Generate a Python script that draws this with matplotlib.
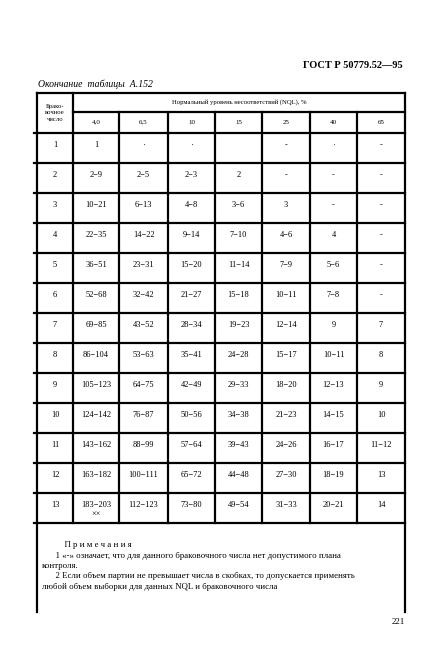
import matplotlib
matplotlib.use("Agg")
from matplotlib import pyplot as plt

plt.rcParams['font.family'] = ['Liberation Serif', 'DejaVu Serif']

# данные таблицы
nql = ["4,0", "6,5", "10", "15", "25", "40", "65"]
reject_numbers = ["1", "2", "3", "4", "5", "6", "7", "8", "9", "10", "11", "12", "13"]
col_40 = ["1", "2−9", "10−21", "22−35", "36−51", "52−68", "69−85", "86−104", "105−123", "124−142", "143−162", "163−182", "183−203\n××"]
col_65 = ["·", "2−5", "6−13", "14−22", "23−31", "32−42", "43−52", "53−63", "64−75", "76−87", "88−99", "100−111", "112−123"]
col_10 = ["·", "2−3", "4−8", "9−14", "15−20", "21−27", "28−34", "35−41", "42−49", "50−56", "57−64", "65−72", "73−80"]
col_15 = ["", "2", "3−6", "7−10", "11−14", "15−18", "19−23", "24−28", "29−33", "34−38", "39−43", "44−48", "49−54"]
col_25 = ["-", "-", "3", "4−6", "7−9", "10−11", "12−14", "15−17", "18−20", "21−23", "24−26", "27−30", "31−33"]
col_40b = ["·", "-", "-", "4", "5−6", "7−8", "9", "10−11", "12−13", "14−15", "16−17", "18−19", "20−21"]
col_65b = ["-", "-", "-", "-", "-", "-", "7", "8", "9", "10", "11−12", "13", "14"]
columns = [col_40, col_65, col_10, col_15, col_25, col_40b, col_65b]

fig = plt.figure(figsize=(4.36, 6.61), dpi=100)
ax = fig.add_axes([0, 0, 1, 1])
ax.set_xlim(0, 436)
ax.set_ylim(661, 0)
ax.axis("off")

lw = 1.6
xs = [37, 73, 119, 168, 215, 262, 310, 357, 405]
top, mid, hdr = 93, 112, 133
row_h = 30
body_end = hdr + row_h * len(reject_numbers)
bottom = 612

# рамки
ax.plot([xs[0], xs[-1]], [top, top], color="black", lw=lw)
ax.plot([xs[1], xs[-1]], [mid, mid], color="black", lw=lw)
for i in range(len(reject_numbers) + 1):
    y = hdr + i * row_h
    ax.plot([xs[0] - 3, xs[-1]], [y, y], color="black", lw=lw)
ax.plot([xs[0], xs[0]], [top, bottom], color="black", lw=lw)
ax.plot([xs[-1], xs[-1]], [top, bottom], color="black", lw=lw)
ax.plot([xs[1], xs[1]], [top, body_end], color="black", lw=lw)
for x in xs[2:-1]:
    ax.plot([x, x], [mid, body_end], color="black", lw=lw)

# заголовки
ax.text(403, 65, "ГОСТ Р 50779.52—95", ha="right", va="center", fontsize=7.5, fontweight="bold")
ax.text(38, 84, "Окончание  таблицы  А.152", ha="left", va="center", fontsize=7, style="italic")
ax.text((xs[0] + xs[1]) / 2, 113, "Брако-\nвочное\nчисло", ha="center", va="center", fontsize=4.8, linespacing=1.3)
ax.text((xs[1] + xs[-1]) / 2, 102, "Нормальный уровень несоответствий (NQL), %", ha="center", va="center", fontsize=4.8)
for j, label in enumerate(nql):
    ax.text((xs[j + 1] + xs[j + 2]) / 2, 122, label, ha="center", va="center", fontsize=5)

# тело таблицы
for i, num in enumerate(reject_numbers):
    yc = hdr + i * row_h + 8
    ax.text((xs[0] + xs[1]) / 2, yc, num, ha="center", va="top", fontsize=6)
    for j, col in enumerate(columns):
        ax.text((xs[j + 1] + xs[j + 2]) / 2, yc, col[i], ha="center", va="top", fontsize=6, linespacing=1.1)

# примечания
notes = ["          П р и м е ч а н и я",
         "      1 «-» означает, что для данного браковочного числа нет допустимого плана",
         "контроля.",
         "      2 Если объем партии не превышает числа в скобках, то допускается применять",
         "любой объем выборки для данных NQL и браковочного числа"]
for k, line in enumerate(notes):
    ax.text(42, 541 + k * 10.5, line, ha="left", va="top", fontsize=6.3)

ax.text(405, 622, "221", ha="right", va="center", fontsize=6.5)

fig.savefig("out.png", dpi=100, facecolor="white")
